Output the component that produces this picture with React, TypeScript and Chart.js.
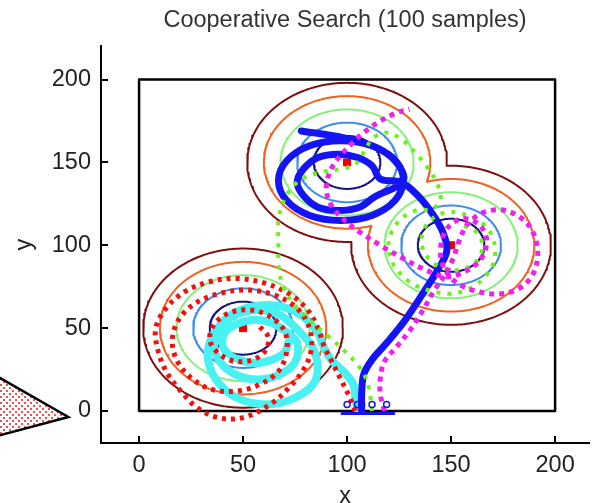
import React, { useEffect, useRef } from 'react';
import { Chart, registerables } from 'chart.js';

Chart.register(...registerables);

const FONT = "'Liberation Sans', Arial, Helvetica, sans-serif";

// axis ticks
const xTicks = [0, 50, 100, 150, 200];
const yTicks = [0, 50, 100, 150, 200];

// search field: bump centres and contour radii (levels)
const centersX = [50, 100, 150];
const centersY = [50, 150, 100];
const contourRadii = [16, 24, 32, 40, 48];
const contourColors = ['#14147a', '#3c8cf0', '#86f07a', '#f2601e', '#7c1010'];

// search region boundary
const boxX = [0, 200, 200, 0, 0];
const boxY = [0, 0, 200, 200, 0];

// agent trajectories
const redX = [104, 101, 97, 93, 89, 86, 81, 73, 61, 47, 34, 22, 13, 8, 9, 13, 20, 28, 38, 50, 63, 72, 80, 83, 81, 75, 65, 52, 39, 27, 19, 16, 18, 25, 35, 47, 58, 67, 71, 70, 63, 53, 43, 36, 34, 38, 46, 55, 61, 62, 57];
const redY = [0, 9, 19, 29, 39, 50, 61, 70, 77, 80, 78, 72, 62, 50, 37, 24, 12, 2, -4, -4, 4, 14, 27, 40, 53, 63, 70, 73, 71, 65, 55, 43, 31, 20, 13, 12, 16, 24, 36, 48, 57, 61, 59, 52, 43, 35, 30, 31, 37, 45, 52];

const cyanX = [105, 104, 103, 99, 93, 89, 85, 75, 62, 47, 37, 33, 37, 47, 61, 75, 85, 84, 75, 67.5, 57, 46.5, 39, 36, 39, 46.5, 57, 67.5, 75, 76, 70, 64, 56, 48, 42, 40, 42, 48, 56, 64, 70, 72];
const cyanY = [0, 8, 16, 23, 30, 38, 49, 60, 64, 60, 49, 34, 19, 8, 4, 8, 19, 37, 50.5, 58, 61, 58, 50.5, 40, 29.5, 22, 19, 22, 29.5, 41, 48.5, 53, 55, 53, 48.5, 42, 35.5, 31, 29, 31, 35.5, 42];

const blueX = [107, 107, 108, 112, 119, 128, 137, 144, 148, 146, 141, 134, 126, 116, 112, 105, 96, 86, 79, 76, 79, 86, 96, 106, 113, 127, 123, 112, 97, 82, 71, 67, 71, 82, 97, 112, 123, 127, 124, 114, 98, 78];
const blueY = [0, 10, 22, 31, 41, 55, 72, 86, 97, 108, 119, 130, 138, 140, 148, 153, 155, 153, 146, 138, 130, 123, 121, 123, 129, 139, 151, 160, 163, 160, 151, 139, 127, 118, 115, 118, 127, 139, 150, 159, 165, 169];

const greenX = [112, 111, 109, 105, 99, 91, 82, 74, 69, 67, 67, 67, 70, 77, 87, 97, 104, 108, 112, 118, 125, 132, 138, 143, 145, 141, 133, 126, 121, 120, 123, 131, 142, 152, 163, 170, 171, 167, 158, 148, 140, 136, 137, 143, 152, 161, 165, 163, 156];
const greenY = [0, 10, 20, 28, 36, 45, 55, 65, 76, 89, 102, 115, 128, 139, 144, 146, 149, 156, 164, 168, 165, 157, 148, 138, 128, 122, 121, 116, 107, 97, 87, 77, 72, 71, 77, 88, 100, 111, 118, 120, 115, 106, 96, 88, 85, 89, 98, 107, 112];

const magX = [118, 116, 116, 118, 124, 131, 137, 142, 147, 151, 154, 158, 166, 176, 186, 191, 191, 186, 176, 163, 152, 146, 145, 148, 155, 163, 167, 165, 158, 148, 138, 127, 116, 106, 98, 92, 90, 92, 96, 102, 108, 116, 124, 130];
const magY = [0, 10, 20, 30, 39, 50, 62, 73, 82, 92, 103, 113, 120, 121, 114, 102, 88, 77, 71, 72, 78, 88, 99, 110, 116, 113, 104, 93, 85, 81, 85, 92, 100, 108, 116, 125, 135, 145, 153, 161, 168, 175, 180, 182];

// start area
const startX = [100, 105, 107, 112, 119];
const startY = [4, 4, 4, 4, 4];
const baseX = [97, 123];
const baseY = [-1.5, -1.5];

// pointer triangle (left margin)
const triX = [-81, -34, -81];
const triY = [30, -3.6, -19.3];

type P = { x: number; y: number };
const pts = (xs: number[], ys: number[]): P[] => xs.map((x, i) => ({ x, y: ys[i] }));

function contourPoints(r: number): P[] {
  const out: P[] = [];
  const n = centersX.length;
  const N = 240;
  const gap = { x: NaN, y: NaN };
  for (let i = 0; i < n; i++) {
    const pt = (t: number): P => ({ x: centersX[i] + r * Math.cos(t), y: centersY[i] + r * Math.sin(t) });
    const inside = (t: number) => {
      const p = pt(t);
      for (let j = 0; j < n; j++) {
        if (j === i) continue;
        if (Math.hypot(p.x - centersX[j], p.y - centersY[j]) < r) return true;
      }
      return false;
    };
    const step = (2 * Math.PI) / N;
    const flags: boolean[] = [];
    for (let k = 0; k < N; k++) flags.push(inside(k * step));
    if (!flags.some((f) => f)) {
      for (let k = 0; k <= N; k++) out.push(pt(k * step));
      out.push(gap);
      continue;
    }
    if (flags.every((f) => f)) continue;
    let s = 0;
    while (!(flags[(s - 1 + N) % N] && !flags[s])) s++;
    const edge = (a: number, b: number) => {
      let lo = a, hi = b;
      for (let it = 0; it < 30; it++) {
        const m = (lo + hi) / 2;
        if (inside(m)) hi = m; else lo = m;
      }
      return pt(lo);
    };
    let run: P[] = [];
    for (let k = 0; k < N; k++) {
      const idx = (s + k) % N;
      const t = (s + k) * step;
      if (!flags[idx]) {
        if (run.length === 0) run.push(edge(t, t - step));
        run.push(pt(t));
        if (flags[(s + k + 1) % N]) {
          run.push(edge(t, t + step));
          out.push(...run, gap);
          run = [];
        }
      }
    }
    if (run.length) out.push(...run, gap);
  }
  return out;
}

function makePattern(): CanvasPattern | string {
  const c = document.createElement('canvas');
  c.width = 6;
  c.height = 6;
  const g = c.getContext('2d');
  if (!g) return '#f7c8c8';
  g.fillStyle = '#ffffff';
  g.fillRect(0, 0, 6, 6);
  g.fillStyle = '#f05050';
  g.fillRect(0, 0, 2, 2);
  g.fillRect(3, 3, 2, 2);
  return g.createPattern(c, 'repeat') || '#f7c8c8';
}

const extrasPlugin = {
  id: 'extras',
  afterDraw(chart: any) {
    const { ctx, chartArea, scales } = chart;
    const x = scales.x;
    const y = scales.y;
    ctx.save();
    // inward tick marks
    ctx.strokeStyle = '#000';
    ctx.lineWidth = 2;
    xTicks.forEach((v) => {
      const px = Math.round(x.getPixelForValue(v));
      ctx.beginPath();
      ctx.moveTo(px, chartArea.bottom);
      ctx.lineTo(px, chartArea.bottom - 7);
      ctx.stroke();
    });
    yTicks.forEach((v) => {
      const py = Math.round(y.getPixelForValue(v));
      ctx.beginPath();
      ctx.moveTo(chartArea.left, py);
      ctx.lineTo(chartArea.left + 7, py);
      ctx.stroke();
    });
    // pointer triangle
    ctx.beginPath();
    triX.forEach((tx, i) => {
      const px = x.getPixelForValue(tx);
      const py = y.getPixelForValue(triY[i]);
      if (i === 0) ctx.moveTo(px, py); else ctx.lineTo(px, py);
    });
    ctx.closePath();
    ctx.fillStyle = makePattern();
    ctx.fill();
    ctx.lineWidth = 2.5;
    ctx.lineJoin = 'miter';
    ctx.strokeStyle = '#000';
    ctx.stroke();
    ctx.restore();
  },
};

export default function App() {
  const ref = useRef<HTMLCanvasElement | null>(null);

  useEffect(() => {
    if (!ref.current) return;
    const line = (data: P[], color: string, width: number, order: number, dash: number[] = [], cap: CanvasLineCap = 'round', tension = 0) => ({
      data,
      showLine: true,
      borderColor: color,
      backgroundColor: color,
      borderWidth: width,
      borderDash: dash,
      borderCapStyle: cap,
      borderJoinStyle: 'round' as CanvasLineJoin,
      pointRadius: 0,
      fill: false,
      tension,
      order,
    });

    const datasets: any[] = [];
    contourRadii.forEach((r, i) => {
      datasets.push(line(contourPoints(r), contourColors[i], 2, 20 + i, [], 'butt'));
    });
    datasets.push(line(pts(boxX, boxY), '#000000', 2.5, 15, [], 'butt'));
    datasets.push({
      data: pts(centersX, centersY),
      showLine: false,
      pointStyle: 'rect',
      pointRadius: 5,
      pointBackgroundColor: '#ee0000',
      pointBorderColor: '#ee0000',
      pointBorderWidth: 1,
      order: 9,
    });
    datasets.push(line(pts(cyanX, cyanY), '#48f2f2', 8, 8, [], 'round', 0.35));
    datasets.push(line(pts(blueX, blueY), '#1414f5', 7, 6, [], 'round', 0.35));
    datasets.push(line(pts(redX, redY), '#f01010', 5, 5, [4, 5], 'butt', 0.35));
    datasets.push(line(pts(greenX, greenY), '#6ef01a', 4, 4, [4, 7], 'butt', 0.35));
    datasets.push(line(pts(magX, magY), '#f020f0', 5, 3, [5, 5], 'butt', 0.35));
    datasets.push(line(pts(baseX, baseY), '#1414f5', 3, 2, [], 'butt'));
    datasets.push({
      data: pts(startX, startY),
      showLine: false,
      pointStyle: 'circle',
      pointRadius: 3,
      pointBackgroundColor: 'rgba(255,255,255,0)',
      pointBorderColor: '#1414f5',
      pointBorderWidth: 1.5,
      order: 1,
    });

    const tickFont = { family: FONT, size: 23.5, weight: 'normal' as const };

    const chart = new Chart(ref.current, {
      type: 'scatter',
      data: { datasets },
      options: {
        animation: false,
        responsive: false,
        devicePixelRatio: 1,
        layout: { padding: 0 },
        plugins: {
          legend: { display: false },
          tooltip: { enabled: false },
          title: {
            display: true,
            text: 'Cooperative Search (100 samples)',
            fullSize: false,
            color: '#333333',
            font: { family: FONT, size: 23.5, weight: 'normal', lineHeight: 1.2 },
            padding: { top: 6, bottom: 12.2 },
          },
        },
        scales: {
          x: {
            type: 'linear',
            min: -18.3,
            max: 216.3,
            afterBuildTicks: (s: any) => {
              s.ticks = xTicks.map((v) => ({ value: v }));
            },
            afterFit: (s: any) => {
              s.height = 60;
            },
            grid: { display: false, drawTicks: false },
            border: { display: true, color: '#000', width: 2 },
            ticks: { padding: 8, color: '#222', font: tickFont, autoSkip: false, maxRotation: 0 },
            title: {
              display: true,
              text: 'x',
              color: '#222',
              font: { family: FONT, size: 23.5, weight: 'normal', lineHeight: 1 },
              padding: { top: 0, bottom: -5 },
            },
          },
          y: {
            type: 'linear',
            min: -19.3,
            max: 220,
            afterBuildTicks: (s: any) => {
              s.ticks = yTicks.map((v) => ({ value: v }));
            },
            afterFit: (s: any) => {
              s.width = 101;
            },
            grid: { display: false, drawTicks: false },
            border: { display: true, color: '#000', width: 2 },
            ticks: { padding: 10, color: '#222', font: tickFont, autoSkip: false },
            title: {
              display: true,
              text: 'y',
              color: '#222',
              font: { family: FONT, size: 23.5, weight: 'normal', lineHeight: 1 },
              padding: { top: 13, bottom: 0 },
            },
          },
        },
      },
      plugins: [extrasPlugin],
    });
    return () => chart.destroy();
  }, []);

  return (
    <div style={{ position: 'absolute', left: 0, top: 0, width: 595, height: 503, background: '#fff' }}>
      <canvas ref={ref} width={595} height={503} style={{ display: 'block', width: 595, height: 503 }} />
    </div>
  );
}
